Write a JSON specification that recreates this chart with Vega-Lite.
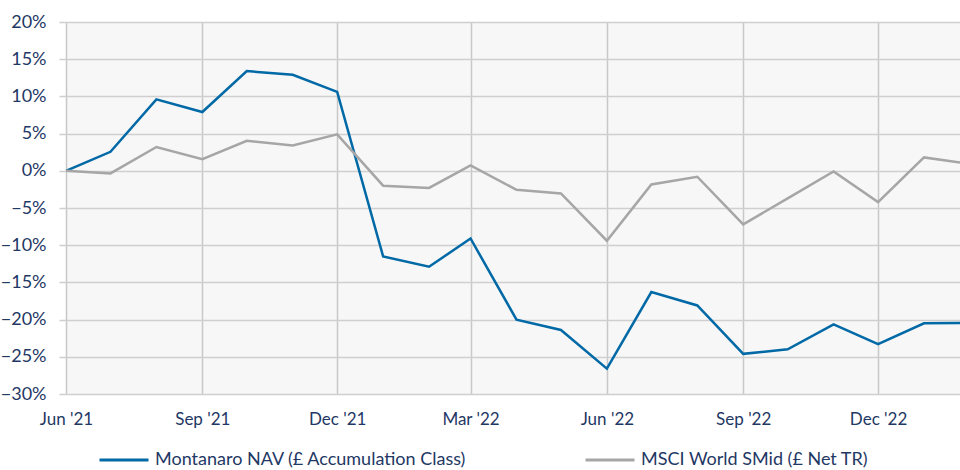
{
  "$schema": "https://vega.github.io/schema/vega-lite/v6.json",
  "width": 894,
  "height": 372,
  "autosize": {"type": "none"},
  "padding": {"left": 66, "top": 22, "right": 0, "bottom": 76},
  "background": "white",
  "config": {"view": {"fill": "#F7F7F7", "stroke": null}, "font": "Lato"},
  "data": {"values": [
    {"date": "2021-06-01", "series": "Montanaro NAV (£ Accumulation Class)", "value": 0},
    {"date": "2021-07-01", "series": "Montanaro NAV (£ Accumulation Class)", "value": 2.55},
    {"date": "2021-08-01", "series": "Montanaro NAV (£ Accumulation Class)", "value": 9.6},
    {"date": "2021-09-01", "series": "Montanaro NAV (£ Accumulation Class)", "value": 7.9},
    {"date": "2021-10-01", "series": "Montanaro NAV (£ Accumulation Class)", "value": 13.4},
    {"date": "2021-11-01", "series": "Montanaro NAV (£ Accumulation Class)", "value": 12.9},
    {"date": "2021-12-01", "series": "Montanaro NAV (£ Accumulation Class)", "value": 10.6},
    {"date": "2022-01-01", "series": "Montanaro NAV (£ Accumulation Class)", "value": -11.5},
    {"date": "2022-02-01", "series": "Montanaro NAV (£ Accumulation Class)", "value": -12.9},
    {"date": "2022-03-01", "series": "Montanaro NAV (£ Accumulation Class)", "value": -9.1},
    {"date": "2022-04-01", "series": "Montanaro NAV (£ Accumulation Class)", "value": -20.0},
    {"date": "2022-05-01", "series": "Montanaro NAV (£ Accumulation Class)", "value": -21.4},
    {"date": "2022-06-01", "series": "Montanaro NAV (£ Accumulation Class)", "value": -26.6},
    {"date": "2022-07-01", "series": "Montanaro NAV (£ Accumulation Class)", "value": -16.3},
    {"date": "2022-08-01", "series": "Montanaro NAV (£ Accumulation Class)", "value": -18.1},
    {"date": "2022-09-01", "series": "Montanaro NAV (£ Accumulation Class)", "value": -24.6},
    {"date": "2022-10-01", "series": "Montanaro NAV (£ Accumulation Class)", "value": -24.0},
    {"date": "2022-11-01", "series": "Montanaro NAV (£ Accumulation Class)", "value": -20.65},
    {"date": "2022-12-01", "series": "Montanaro NAV (£ Accumulation Class)", "value": -23.3},
    {"date": "2023-01-01", "series": "Montanaro NAV (£ Accumulation Class)", "value": -20.5},
    {"date": "2023-02-01", "series": "Montanaro NAV (£ Accumulation Class)", "value": -20.45},
    {"date": "2021-06-01", "series": "MSCI World SMid (£ Net TR)", "value": 0},
    {"date": "2021-07-01", "series": "MSCI World SMid (£ Net TR)", "value": -0.35},
    {"date": "2021-08-01", "series": "MSCI World SMid (£ Net TR)", "value": 3.2},
    {"date": "2021-09-01", "series": "MSCI World SMid (£ Net TR)", "value": 1.57},
    {"date": "2021-10-01", "series": "MSCI World SMid (£ Net TR)", "value": 4.03},
    {"date": "2021-11-01", "series": "MSCI World SMid (£ Net TR)", "value": 3.4},
    {"date": "2021-12-01", "series": "MSCI World SMid (£ Net TR)", "value": 4.9},
    {"date": "2022-01-01", "series": "MSCI World SMid (£ Net TR)", "value": -2.0},
    {"date": "2022-02-01", "series": "MSCI World SMid (£ Net TR)", "value": -2.3},
    {"date": "2022-03-01", "series": "MSCI World SMid (£ Net TR)", "value": 0.72},
    {"date": "2022-04-01", "series": "MSCI World SMid (£ Net TR)", "value": -2.55},
    {"date": "2022-05-01", "series": "MSCI World SMid (£ Net TR)", "value": -3.04},
    {"date": "2022-06-01", "series": "MSCI World SMid (£ Net TR)", "value": -9.4},
    {"date": "2022-07-01", "series": "MSCI World SMid (£ Net TR)", "value": -1.83},
    {"date": "2022-08-01", "series": "MSCI World SMid (£ Net TR)", "value": -0.8},
    {"date": "2022-09-01", "series": "MSCI World SMid (£ Net TR)", "value": -7.2},
    {"date": "2022-10-01", "series": "MSCI World SMid (£ Net TR)", "value": -3.7},
    {"date": "2022-11-01", "series": "MSCI World SMid (£ Net TR)", "value": -0.1},
    {"date": "2022-12-01", "series": "MSCI World SMid (£ Net TR)", "value": -4.2},
    {"date": "2023-01-01", "series": "MSCI World SMid (£ Net TR)", "value": 1.8},
    {"date": "2023-02-01", "series": "MSCI World SMid (£ Net TR)", "value": 0.91}
  ]},
  "mark": {"type": "line", "clip": true, "strokeWidth": 2.5},
  "encoding": {
    "x": {
      "field": "date",
      "type": "temporal",
      "scale": {
        "type": "utc",
        "domain": [
          {"year": 2021, "month": 6, "date": 1, "utc": true},
          {"year": 2023, "month": 1, "date": 25, "hours": 7, "utc": true}
        ]
      },
      "axis": {
        "title": null,
        "values": [
          {"year": 2021, "month": 6, "date": 1, "utc": true},
          {"year": 2021, "month": 9, "date": 1, "utc": true},
          {"year": 2021, "month": 12, "date": 1, "utc": true},
          {"year": 2022, "month": 3, "date": 1, "utc": true},
          {"year": 2022, "month": 6, "date": 1, "utc": true},
          {"year": 2022, "month": 9, "date": 1, "utc": true},
          {"year": 2022, "month": 12, "date": 1, "utc": true}
        ],
        "labelExpr": "utcFormat(datum.value, \"%b '%y\")",
        "grid": true,
        "gridColor": "#C8C8C8",
        "gridWidth": 1.5,
        "ticks": false,
        "domain": false,
        "labelPadding": 17,
        "labelFontSize": 17,
        "labelColor": "#1F3864",
        "labelFlush": false,
        "labelOverlap": false
      }
    },
    "y": {
      "field": "value",
      "type": "quantitative",
      "scale": {"domain": [-30, 20], "nice": false, "zero": false},
      "axis": {
        "title": null,
        "values": [-30, -25, -20, -15, -10, -5, 0, 5, 10, 15, 20],
        "labelExpr": "format(datum.value, 'd') + '%'",
        "grid": true,
        "gridColor": "#CFCFCF",
        "gridWidth": 1.5,
        "ticks": true,
        "tickSize": 7,
        "tickColor": "#CFCFCF",
        "tickWidth": 1.5,
        "domain": false,
        "labelPadding": 13,
        "labelFontSize": 18,
        "labelColor": "#1F3864",
        "labelOverlap": false,
        "labelFlush": false
      }
    },
    "color": {
      "field": "series",
      "type": "nominal",
      "scale": {
        "domain": ["Montanaro NAV (£ Accumulation Class)", "MSCI World SMid (£ Net TR)"],
        "range": ["#0069A6", "#A6A6A6"]
      },
      "legend": {
        "orient": "none",
        "legendX": 32,
        "legendY": 412,
        "direction": "horizontal",
        "title": null,
        "symbolType": "stroke",
        "symbolSize": 2401,
        "symbolStrokeWidth": 3,
        "labelFontSize": 18,
        "labelColor": "#1F3864",
        "labelLimit": 0,
        "labelOffset": 5,
        "columnPadding": 112
      }
    }
  }
}
